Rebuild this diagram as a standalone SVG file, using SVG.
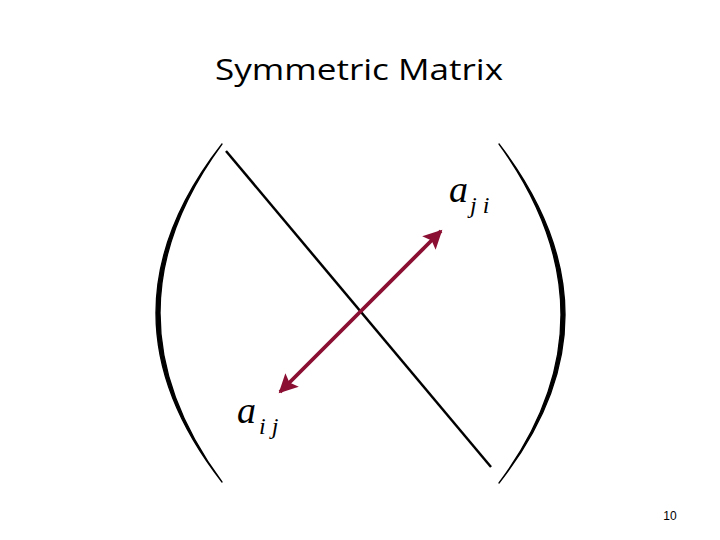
<svg xmlns="http://www.w3.org/2000/svg" width="720" height="540" viewBox="0 0 720 540">
<style>
.title{font-family:"Open Sans","Liberation Sans",sans-serif;font-size:30px;fill:#000}
.math{font-family:"Liberation Serif","DejaVu Serif",serif;font-style:italic;fill:#000}
.paren{fill:#000;stroke:#000;stroke-width:1.3;stroke-linejoin:round}
.num{font-family:"Liberation Sans",sans-serif;font-size:12px;fill:#000}
</style>
<defs>
<marker id="ah" viewBox="0 0 10 10" refX="9" refY="5" markerWidth="6" markerHeight="5" orient="auto-start-reverse" markerUnits="strokeWidth">
<path d="M0,0 L10,5 L0,10 L2,5 Z" fill="#8b0f32"/>
</marker>
</defs>
<rect width="720" height="540" fill="#fff"/>
<text class="title" x="359" y="80" text-anchor="middle" textLength="288" lengthAdjust="spacingAndGlyphs">Symmetric Matrix</text>
<g id="left-paren"><path class="paren" d="M222,144 Q90,313 222,482 Q98,313 222,144 Z"/></g>
<g id="right-paren"><path class="paren" d="M499,144 Q631,316 499,483 Q623,316 499,144 Z"/></g>
<g id="diagonal"><line x1="226" y1="151" x2="491" y2="467" stroke="#000" stroke-width="2.5"/></g>
<g id="connectors"><line x1="280" y1="392" x2="441" y2="231" stroke="#8b0f32" stroke-width="3.8" marker-start="url(#ah)" marker-end="url(#ah)"/></g>
<g id="aji"><text class="math" x="449" y="202" font-size="38">a</text><text class="math" x="470" y="213" font-size="24">j i</text></g>
<g id="aij"><text class="math" x="237" y="423" font-size="38">a</text><text class="math" x="259" y="434" font-size="24">i j</text></g>
<text class="num" x="670" y="520" text-anchor="middle">10</text>
</svg>
